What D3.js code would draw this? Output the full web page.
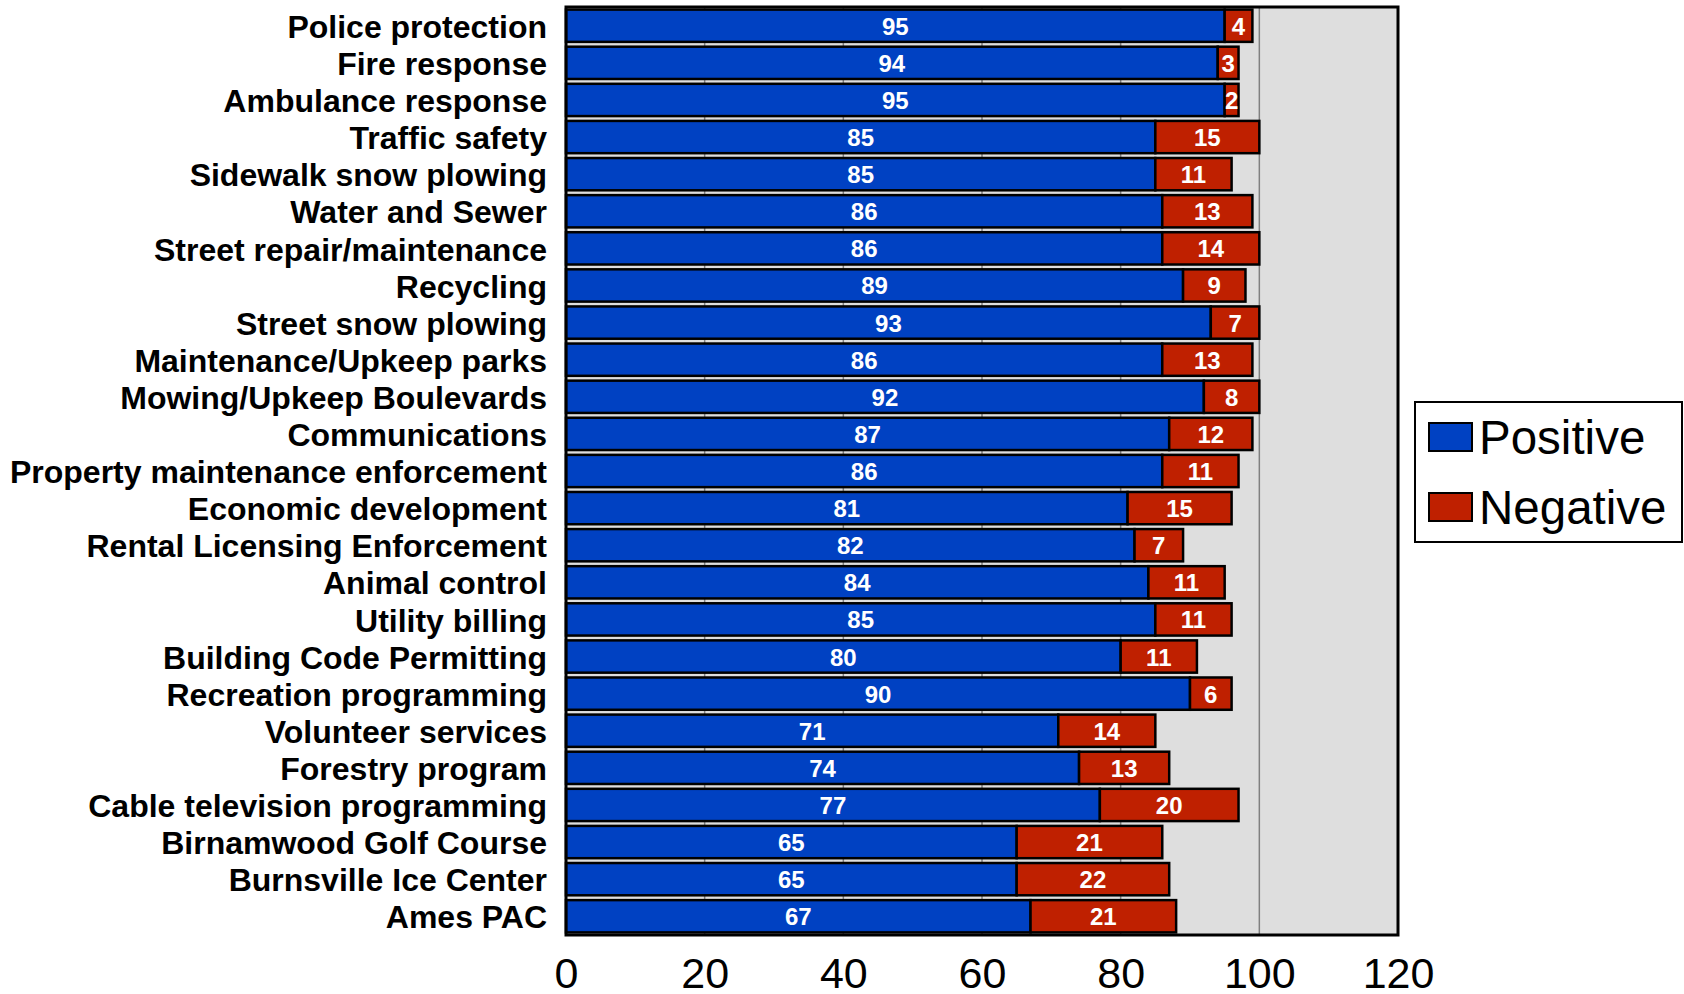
<!DOCTYPE html>
<html>
<head>
<meta charset="utf-8">
<script src="https://cdn.jsdelivr.net/npm/d3@7"></script>
<style>
  html, body { margin: 0; padding: 0; background: #ffffff; }
  svg { display: block; }
  svg text { font-family: "Liberation Sans", Arial, Helvetica, sans-serif; }
</style>
</head>
<body>
<svg id="chart" width="1684" height="994"></svg>
<script>
const categories = [
  "Police protection", "Fire response", "Ambulance response", "Traffic safety",
  "Sidewalk snow plowing", "Water and Sewer", "Street repair/maintenance", "Recycling",
  "Street snow plowing", "Maintenance/Upkeep parks", "Mowing/Upkeep Boulevards",
  "Communications", "Property maintenance enforcement", "Economic development",
  "Rental Licensing Enforcement", "Animal control", "Utility billing",
  "Building Code Permitting", "Recreation programming", "Volunteer services",
  "Forestry program", "Cable television programming", "Birnamwood Golf Course",
  "Burnsville Ice Center", "Ames PAC"
];
const positive = [95, 94, 95, 85, 85, 86, 86, 89, 93, 86, 92, 87, 86, 81, 82, 84, 85, 80, 90, 71, 74, 77, 65, 65, 67];
const negative = [4, 3, 2, 15, 11, 13, 14, 9, 7, 13, 8, 12, 11, 15, 7, 11, 11, 11, 6, 14, 13, 20, 21, 22, 21];
const xTicks = [0, 20, 40, 60, 80, 100, 120];
const seriesNames = ["Positive", "Negative"];
const seriesColors = ["#0041C2", "#BF2000"];

const svg = d3.select("#chart");
const plot = { left: 566, right: 1398, top: 7, bottom: 935 };

const x = d3.scaleLinear().domain([0, 120]).range([plot.left, plot.right]);
const y = d3.scaleBand().domain(categories).range([plot.top, plot.bottom]).paddingInner(0.13).paddingOuter(0.07);

// plot background
svg.append("rect")
  .attr("x", plot.left).attr("y", plot.top)
  .attr("width", plot.right - plot.left).attr("height", plot.bottom - plot.top)
  .attr("fill", "#DEDEDE");

// gridlines
svg.append("g").selectAll("line")
  .data(xTicks.filter(t => t > 0 && t < 120))
  .join("line")
  .attr("x1", d => x(d)).attr("x2", d => x(d))
  .attr("y1", plot.top).attr("y2", plot.bottom)
  .attr("stroke", "#808080").attr("stroke-width", 1.5);

// bars
const rows = categories.map((c, i) => ({ c, p: positive[i], n: negative[i] }));
const g = svg.append("g");
g.selectAll("rect.pos").data(rows).join("rect")
  .attr("class", "pos")
  .attr("x", x(0)).attr("y", d => y(d.c))
  .attr("width", d => x(d.p) - x(0)).attr("height", y.bandwidth())
  .attr("fill", seriesColors[0]).attr("stroke", "#000").attr("stroke-width", 2.5);
g.selectAll("rect.neg").data(rows).join("rect")
  .attr("class", "neg")
  .attr("x", d => x(d.p)).attr("y", d => y(d.c))
  .attr("width", d => x(d.p + d.n) - x(d.p)).attr("height", y.bandwidth())
  .attr("fill", seriesColors[1]).attr("stroke", "#000").attr("stroke-width", 2.5);

// value labels
g.selectAll("text.pv").data(rows).join("text")
  .attr("x", d => (x(0) + x(d.p)) / 2).attr("y", d => y(d.c) + y.bandwidth() / 2 + 9)
  .attr("text-anchor", "middle").attr("fill", "#fff")
  .attr("font-weight", "bold").attr("font-size", 24)
  .text(d => d.p);
g.selectAll("text.nv").data(rows).join("text")
  .attr("x", d => (x(d.p) + x(d.p + d.n)) / 2).attr("y", d => y(d.c) + y.bandwidth() / 2 + 9)
  .attr("text-anchor", "middle").attr("fill", "#fff")
  .attr("font-weight", "bold").attr("font-size", 24)
  .text(d => d.n);

// plot border
svg.append("rect")
  .attr("x", plot.left).attr("y", plot.top)
  .attr("width", plot.right - plot.left).attr("height", plot.bottom - plot.top)
  .attr("fill", "none").attr("stroke", "#000").attr("stroke-width", 3);

// category axis
const yAxis = svg.append("g")
  .attr("transform", `translate(${plot.left},0)`)
  .call(d3.axisLeft(y).tickSize(0).tickPadding(19));
yAxis.select(".domain").remove();
yAxis.attr("font-family", null);
yAxis.selectAll("text")
  .attr("font-weight", "bold").attr("font-size", 32)
  .attr("fill", "#000").attr("dy", "0.38em");

// value axis
const xAxis = svg.append("g")
  .attr("transform", `translate(0,${plot.bottom})`)
  .call(d3.axisBottom(x).tickValues(xTicks).tickSize(0).tickPadding(22));
xAxis.select(".domain").remove();
xAxis.attr("font-family", null);
xAxis.selectAll("text")
  .attr("font-size", 43).attr("fill", "#000")
  .attr("dy", "0.71em");

// legend
const leg = svg.append("g");
leg.append("rect")
  .attr("x", 1415).attr("y", 402).attr("width", 267).attr("height", 140)
  .attr("fill", "#fff").attr("stroke", "#000").attr("stroke-width", 2);
seriesNames.forEach((s, i) => {
  const yy = 423 + i * 70;
  leg.append("rect")
    .attr("x", 1429).attr("y", yy).attr("width", 43).attr("height", 28)
    .attr("fill", seriesColors[i]).attr("stroke", "#000").attr("stroke-width", 2);
  leg.append("text")
    .attr("x", 1479).attr("y", yy + 31)
    .attr("font-size", 47.5).attr("fill", "#000")
    .text(s);
});
</script>
</body>
</html>
